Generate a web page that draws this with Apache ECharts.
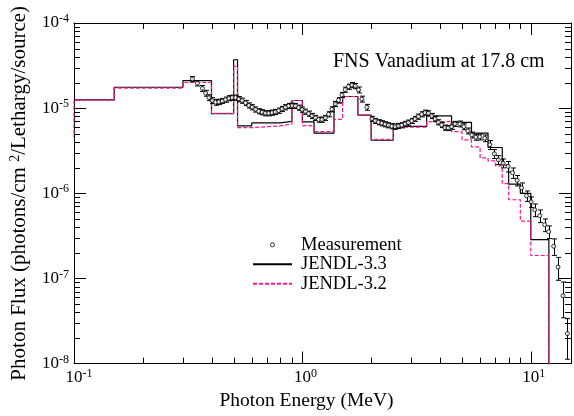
<!DOCTYPE html>
<html><head><meta charset="utf-8">
<script src="https://cdn.jsdelivr.net/npm/echarts@6/dist/echarts.min.js"></script>
<style>html,body{margin:0;padding:0;background:#fff}#c{width:574px;height:416px}</style>
</head><body><div id="c"></div>
<script>
// ---------------- data ----------------
const titleText = 'FNS Vanadium at 17.8 cm';
const xAxisName = 'Photon Energy (MeV)';

// JENDL-3.3 group structure (MeV) and flux per group
const edges33 = [0.1, 0.15, 0.3, 0.4, 0.5, 0.52, 0.6, 0.8, 0.9, 1.0, 1.125, 1.375, 1.5, 1.75, 2.0, 2.5, 3.5, 4.5, 5.5, 6.5, 7.5, 8, 9, 10, 12];
const flux33  = [1.25e-5, 1.76e-5, 2.1e-5, 8.6e-6, 3.7e-5, 6.2e-6, 6.7e-6, 7.0e-6, 1.23e-5, 6.9e-6, 5.1e-6, 1.15e-5, 1.37e-5, 8.3e-6, 4.2e-6, 6.1e-6, 8.1e-6, 6.8e-6, 5.1e-6, 3.45e-6, 2.15e-6, 1.28e-6, 1.0e-6, 2.85e-7];

// JENDL-3.2 group structure (MeV) and flux per group
const edges32 = [0.08, 0.1, 0.15, 0.3, 0.4, 0.5, 0.52, 0.6, 0.8, 0.9, 1.0, 1.125, 1.375, 1.5, 1.75, 2.0, 2.5, 3.5, 4.5, 5.0, 5.5, 6.0, 6.5, 7.0, 7.5, 8, 9, 10, 12];
const flux32  = [4.7e-6, 1.24e-5, 1.72e-5, 2.0e-5, 8.7e-6, 3.1e-5, 5.9e-6, 6.2e-6, 6.5e-6, 1.23e-5, 6.25e-6, 5.3e-6, 7.4e-6, 1.37e-5, 8.3e-6, 4.3e-6, 6.0e-6, 6.95e-6, 5.3e-6, 4.25e-6, 3.5e-6, 2.6e-6, 2.4e-6, 2.1e-6, 1.3e-6, 8.4e-7, 4.7e-7, 1.86e-7];
const fluxAboveCutoff = 1e-10;

// Measurement
const measEnergy = [
  0.330,0.347,0.365,0.377,0.390,0.403,0.417,0.431,0.446,0.461,
  0.477,0.493,0.510,0.527,0.545,0.564,0.583,0.603,0.623,0.644,
  0.667,0.689,0.713,0.737,0.762,0.788,0.815,0.843,0.871,0.902,
  0.932,0.963,0.997,1.031,1.065,1.102,1.140,1.178,1.219,1.260,
  1.303,1.348,1.393,1.440,1.491,1.541,1.593,1.648,1.704,1.762,
  1.823,1.917,2.016,2.084,2.154,2.228,2.304,2.382,2.465,2.548,
  2.634,2.725,2.818,2.912,3.013,3.114,3.220,3.332,3.444,3.561,
  3.685,3.809,3.937,4.074,4.212,4.354,4.505,4.657,4.897,5.098,
  5.307,5.526,5.751,5.988,6.297,6.622,6.929,7.214,7.569,7.960,
  8.322,8.715,9.108,9.579,10.03,10.41,10.95,11.51,11.98,12.60,
  13.16,13.84,14.47];
const measFlux = [
  2.20e-5,1.96e-5,1.71e-5,1.50e-5,1.33e-5,1.227e-5,1.175e-5,1.184e-5,1.216e-5,1.26e-5,
  1.31e-5,1.33e-5,1.33e-5,1.277e-5,1.227e-5,1.152e-5,1.077e-5,1.026e-5,9.67e-6,9.21e-6,
  8.97e-6,8.73e-6,8.73e-6,8.87e-6,9.04e-6,9.36e-6,9.80e-6,1.026e-5,1.063e-5,1.071e-5,
  1.063e-5,1.015e-5,9.62e-6,9.11e-6,8.63e-6,8.11e-6,7.69e-6,7.34e-6,7.34e-6,7.69e-6,
  8.49e-6,9.72e-6,1.122e-5,1.24e-5,1.43e-5,1.65e-5,1.79e-5,1.87e-5,1.82e-5,1.64e-5,
  1.28e-5,1.026e-5,7.48e-6,7.09e-6,6.84e-6,6.66e-6,6.48e-6,6.31e-6,6.14e-6,6.07e-6,
  6.19e-6,6.31e-6,6.54e-6,6.77e-6,7.09e-6,7.48e-6,7.96e-6,8.49e-6,8.87e-6,8.73e-6,
  8.11e-6,7.48e-6,6.84e-6,6.36e-6,5.91e-6,5.86e-6,6.07e-6,6.54e-6,6.54e-6,6.07e-6,
  5.41e-6,4.85e-6,4.56e-6,4.60e-6,4.44e-6,3.71e-6,2.91e-6,2.47e-6,2.26e-6,2.07e-6,
  1.74e-6,1.42e-6,1.16e-6,9.35e-7,7.95e-7,6.40e-7,5.45e-7,4.27e-7,3.54e-7,2.39e-7,
  1.36e-7,6.27e-8,2.25e-8];
const measRelErr = [
  0.07,0.07,0.08,0.08,0.08,0.08,0.08,0.07,0.07,0.07,
  0.07,0.07,0.07,0.07,0.07,0.07,0.07,0.07,0.07,0.07,
  0.07,0.07,0.07,0.07,0.07,0.07,0.07,0.07,0.07,0.07,
  0.07,0.07,0.07,0.07,0.07,0.07,0.07,0.07,0.07,0.07,
  0.07,0.07,0.07,0.07,0.07,0.07,0.07,0.07,0.07,0.08,
  0.08,0.08,0.07,0.07,0.07,0.07,0.07,0.07,0.07,0.07,
  0.07,0.07,0.07,0.07,0.07,0.07,0.07,0.07,0.07,0.07,
  0.07,0.07,0.07,0.07,0.07,0.07,0.07,0.07,0.08,0.08,
  0.08,0.08,0.08,0.08,0.09,0.12,0.12,0.12,0.12,0.14,
  0.14,0.14,0.14,0.14,0.14,0.17,0.17,0.17,0.17,0.22,
  0.3,0.45,0.5];

const xMin = 0.1, xMax = 15, yMin = 1e-8, yMax = 1e-4;
const xMinorTicks = [0.2,0.3,0.4,0.5,0.6,0.7,0.8,0.9, 2,3,4,5,6,7,8,9];
const yMinorTicks = [2e-8,3e-8,4e-8,5e-8,6e-8,7e-8,8e-8,9e-8,
                     2e-7,3e-7,4e-7,5e-7,6e-7,7e-7,8e-7,9e-7,
                     2e-6,3e-6,4e-6,5e-6,6e-6,7e-6,8e-6,9e-6,
                     2e-5,3e-5,4e-5,5e-5,6e-5,7e-5,8e-5,9e-5];

// ---------------- chart ----------------
const FONT = "'Liberation Serif','Times New Roman',serif";
const PINK = '#ff1493';

function stepData(edges, vals){
  const d = [];
  for (let i = 0; i < vals.length; i++) d.push([edges[i], vals[i]]);
  d.push([edges[edges.length-1], vals[vals.length-1]]);
  d.push([edges[edges.length-1], fluxAboveCutoff]);
  return d;
}

function powLabel(v, isX){
  const l = Math.log10(v);
  const e = Math.round(l);
  if (Math.abs(l - e) > 1e-6) return '';
  if (!isX) return '{b|10}{e|' + e + '}';
  return (e < 0 ? '{bn|10}' : '{bp|10}') + '{e|' + e + '}';
}
const labelRich = {
  b:  {fontFamily: FONT, fontSize: 17, lineHeight: 20, color:'#000'},
  bn: {fontFamily: FONT, fontSize: 17, lineHeight: 20, color:'#000', padding:[0,0,0,10]},
  bp: {fontFamily: FONT, fontSize: 17, lineHeight: 20, color:'#000', padding:[0,0,0,6]},
  e:  {fontFamily: FONT, fontSize: 12, lineHeight: 12, verticalAlign:'top', color:'#000'}
};

function minorTicks(values, isX){
  return {
    type: 'custom', silent: true, clip: false, z: 6, animation: false,
    data: values.map(v => isX ? [v, 1e-6] : [1, v]),
    encode: {x: 0, y: 1},
    renderItem: function(params, api){
      const cs = params.coordSys;
      const p = api.coord([api.value(0), api.value(1)]);
      const L = 6, st = {stroke:'#000', lineWidth:1};
      if (isX){
        const x = Math.round(p[0]) + 0.5, yb = cs.y + cs.height, yt = cs.y;
        return {type:'group', children:[
          {type:'line', shape:{x1:x, y1:yb, x2:x, y2:yb-L}, style:st},
          {type:'line', shape:{x1:x, y1:yt, x2:x, y2:yt+L}, style:st}]};
      }
      const y = Math.round(p[1]) + 0.5, xl = cs.x, xr = cs.x + cs.width;
      return {type:'group', children:[
        {type:'line', shape:{x1:xl, y1:y, x2:xl+L, y2:y}, style:st},
        {type:'line', shape:{x1:xr, y1:y, x2:xr-L, y2:y}, style:st}]};
    }
  };
}

const measPoints = measEnergy.map((e,i) => [e, measFlux[i]]);
const errData = measEnergy.map((e,i) => [e, measFlux[i], measFlux[i]*(1-measRelErr[i]), measFlux[i]*(1+measRelErr[i])]);

const axisCommonX = {
  type:'log', logBase:10, min:xMin, max:xMax,
  axisLine:{show:true, lineStyle:{color:'#000', width:1}},
  axisTick:{show:true, inside:true, length:12, lineStyle:{color:'#000', width:1}},
  splitLine:{show:false}, minorTick:{show:false}, minorSplitLine:{show:false}
};
const axisCommonY = {
  type:'log', logBase:10, min:yMin, max:yMax,
  axisLine:{show:true, lineStyle:{color:'#000', width:1}},
  axisTick:{show:true, inside:true, length:12, lineStyle:{color:'#000', width:1}},
  splitLine:{show:false}, minorTick:{show:false}, minorSplitLine:{show:false}
};

const chart = echarts.init(document.getElementById('c'), null, {renderer:'canvas'});
chart.setOption({
  animation: false,
  backgroundColor: '#fff',
  title: {text: titleText, left: 333, top: 52, padding: 0,
    textStyle:{fontFamily: FONT, fontSize: 20, fontWeight:'normal', color:'#000'}},
  grid: {left: 73, right: 3, top: 23, bottom: 52, containLabel:false},
  legend: {
    data: [
      {name:'Measurement', icon:'circle', itemStyle:{color:'#fff', borderColor:'#000', borderWidth:1}},
      {name:'JENDL-3.3', itemStyle:{opacity:0}},
      {name:'JENDL-3.2', itemStyle:{opacity:0}}
    ],
    orient:'vertical', left: 252, top: 235, itemWidth: 39, itemHeight: 4, itemGap: 0,
    padding: 0, selectedMode:false,
    textStyle:{fontFamily: FONT, fontSize: 18.5, lineHeight: 19.5, color:'#000', padding:[0,0,0,4]}
  },
  xAxis: [
    Object.assign({}, axisCommonX, {
      position:'bottom',
      name: xAxisName, nameLocation:'middle', nameGap: 14,
      nameTextStyle:{fontFamily: FONT, fontSize: 19.5, color:'#000', padding:[0,32,0,0]},
      axisLabel:{show:true, margin: 4, formatter: v => powLabel(v, true), rich: labelRich}
    }),
    Object.assign({}, axisCommonX, {position:'top', axisLabel:{show:false}})
  ],
  yAxis: [
    Object.assign({}, axisCommonY, {
      position:'left',
      name: '{a|Photon Flux (photons/cm }{s|2}{a|/Lethargy/source)}',
      nameLocation:'middle', nameGap: 44, nameRotate: 90,
      nameTextStyle:{rich:{
        a:{fontFamily: FONT, fontSize: 21, lineHeight: 22, color:'#000'},
        s:{fontFamily: FONT, fontSize: 14, lineHeight: 13, verticalAlign:'top', color:'#000'}}},
      axisLabel:{show:true, margin: 5, formatter: v => powLabel(v, false), rich: labelRich}
    }),
    Object.assign({}, axisCommonY, {position:'right', axisLabel:{show:false}})
  ],
  series: [
    {
      name:'JENDL-3.3', type:'line', step:'end', symbol:'none', showSymbol:false,
      data: stepData(edges33, flux33), clip:true, z:3,
      lineStyle:{color:'#000', width:1.2}, itemStyle:{color:'#000'}
    },
    {
      name:'JENDL-3.2', type:'line', step:'end', symbol:'none', showSymbol:false,
      data: stepData(edges32, flux32), clip:true, z:4,
      lineStyle:{color:PINK, width:1.2, type:[4,2]}, itemStyle:{color:PINK}
    },
    {
      name:'errbars', type:'custom', silent:true, z:5, clip:true,
      data: errData, encode:{x:0, y:1},
      renderItem: function(params, api){
        const e = api.value(0);
        const x = Math.round(api.coord([e, api.value(1)])[0]) + 0.5;
        const yl = api.coord([e, api.value(2)])[1];
        const yh = api.coord([e, api.value(3)])[1];
        const st = {stroke:'#000', lineWidth:1};
        const c = 2.5;
        return {type:'group', children:[
          {type:'line', shape:{x1:x, y1:yl, x2:x, y2:yh}, style:st},
          {type:'line', shape:{x1:x-c, y1:yl, x2:x+c, y2:yl}, style:st},
          {type:'line', shape:{x1:x-c, y1:yh, x2:x+c, y2:yh}, style:st}]};
      }
    },
    {
      name:'Measurement', type:'scatter', symbol:'circle', symbolSize:4, z:7,
      data: measPoints,
      itemStyle:{color:'#fff', borderColor:'#000', borderWidth:1}
    },
    minorTicks(xMinorTicks, true),
    minorTicks(yMinorTicks, false)
  ]
});
</script>
</body></html>
